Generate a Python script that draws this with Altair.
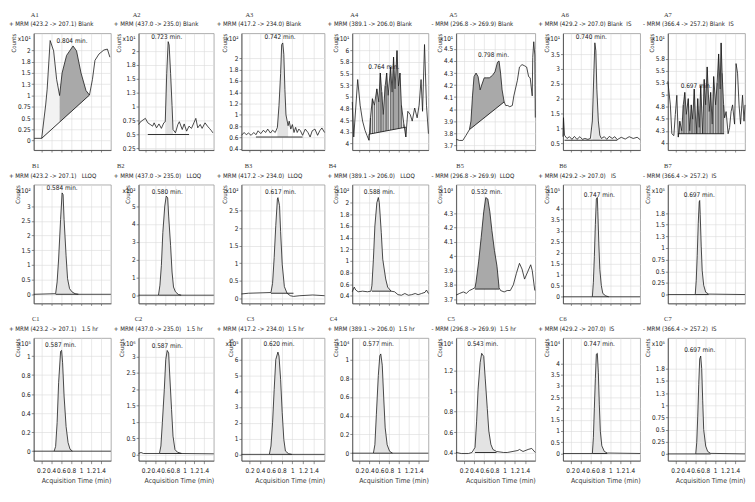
import altair as alt
import pandas as pd

# ---------------- data ----------------
# Row A (Blank)
T_A1 = [0.06, 0.21, 0.29, 0.32, 0.38, 0.45, 0.51, 0.57, 0.62, 0.71, 0.84, 0.91, 1.00, 1.10, 1.17, 1.23, 1.28, 1.36, 1.46, 1.53, 1.58]
V_A1 = [0.05, 0.05, 0.79, 1.14, 2.22, 1.99, 1.36, 1.00, 1.50, 1.89, 2.10, 1.99, 1.50, 1.11, 1.01, 1.36, 1.78, 1.92, 2.01, 2.03, 1.85]

T_A2 = [0.05, 0.08, 0.14, 0.19, 0.24, 0.29, 0.34, 0.37, 0.42, 0.47, 0.52, 0.57, 0.60, 0.63, 0.66, 0.68, 0.71, 0.74, 0.76, 0.81,
        0.86, 0.89, 0.95, 0.99, 1.04, 1.09, 1.14, 1.19, 1.23, 1.27, 1.32, 1.36, 1.42, 1.47, 1.51, 1.55, 1.58]
V_A2 = [0.68, 0.72, 0.76, 0.79, 0.71, 0.68, 0.65, 0.71, 0.62, 0.69, 0.61, 0.71, 0.73, 1.60, 2.17, 2.11, 1.60, 1.02, 0.59, 0.53,
        0.68, 0.73, 0.59, 0.69, 0.56, 0.65, 0.61, 0.71, 0.79, 0.62, 0.68, 0.61, 0.71, 0.65, 0.61, 0.57, 0.53]

T_A3 = [0.05, 0.10, 0.14, 0.18, 0.23, 0.28, 0.32, 0.36, 0.41, 0.46, 0.50, 0.54, 0.59, 0.63, 0.68, 0.72, 0.75, 0.78, 0.80, 0.82,
        0.84, 0.86, 0.88, 0.92, 0.94, 0.97, 1.00, 1.03, 1.06, 1.09, 1.12, 1.15, 1.19, 1.24, 1.29, 1.33, 1.37, 1.42, 1.47, 1.51,
        1.55, 1.60]
V_A3 = [0.64, 0.69, 0.65, 0.68, 0.64, 0.69, 0.65, 0.72, 0.67, 0.73, 0.69, 0.75, 0.68, 0.73, 0.69, 0.78, 1.17, 1.73, 2.24, 2.27,
        2.07, 1.45, 1.00, 0.81, 0.89, 0.75, 0.83, 0.69, 0.78, 0.69, 0.75, 0.72, 0.64, 0.75, 0.69, 0.61, 0.72, 0.75, 0.64, 0.72,
        0.77, 0.69]

T_A4 = [0.05, 0.08, 0.16, 0.21, 0.26, 0.31, 0.35, 0.39, 0.42, 0.46, 0.50, 0.55, 0.59, 0.62, 0.65, 0.68, 0.72, 0.75, 0.78, 0.83,
        0.86, 0.89, 0.92, 0.96, 0.99, 1.02, 1.05, 1.10, 1.14, 1.18, 1.23, 1.27, 1.32, 1.37, 1.41, 1.45, 1.48, 1.52, 1.56, 1.60]
V_A4 = [4.89, 4.14, 5.37, 4.82, 4.48, 4.28, 4.17, 4.07, 4.55, 4.96, 4.82, 5.17, 4.89, 5.51, 5.10, 4.62, 5.23, 5.51, 5.03, 5.64,
        5.10, 5.85, 5.17, 5.99, 5.23, 5.51, 4.82, 4.41, 4.14, 4.69, 4.62, 4.48, 4.76, 4.55, 4.82, 5.37, 4.69, 6.12, 4.82, 4.21]

T_A5 = [0.05, 0.11, 0.18, 0.24, 0.31, 0.34, 0.37, 0.40, 0.44, 0.48, 0.52, 0.55, 0.60, 0.64, 0.70, 0.76, 0.81, 0.86, 0.89, 0.92,
        0.95, 0.99, 1.02, 1.06, 1.10, 1.15, 1.18, 1.25, 1.29, 1.34, 1.39, 1.43, 1.47, 1.50, 1.54, 1.55, 1.57, 1.59, 1.60]
V_A5 = [3.75, 3.74, 3.74, 3.78, 3.83, 3.90, 4.11, 4.27, 4.30, 4.27, 4.16, 4.20, 4.26, 4.26, 4.26, 4.28, 4.31, 4.39, 4.40, 4.30,
        4.16, 4.06, 4.03, 4.03, 4.02, 4.03, 4.11, 4.24, 4.35, 4.37, 4.36, 4.35, 4.27, 4.26, 4.11, 4.43, 4.56, 4.45, 3.93]

T_A6 = [0.05, 0.06, 0.08, 0.13, 0.18, 0.23, 0.28, 0.33, 0.39, 0.44, 0.49, 0.55, 0.60, 0.64, 0.67, 0.69, 0.71, 0.73, 0.76, 0.79,
        0.82, 0.88, 0.93, 0.98, 1.04, 1.09, 1.14, 1.22, 1.30, 1.38, 1.46, 1.54, 1.60]
V_A6 = [0.72, 1.36, 0.77, 0.66, 0.72, 0.63, 0.73, 0.63, 0.72, 0.63, 0.66, 0.63, 0.66, 1.25, 2.86, 3.88, 3.61, 2.32, 1.25, 0.77,
        0.66, 0.72, 0.63, 0.73, 0.66, 0.72, 0.62, 0.70, 0.64, 0.72, 0.66, 0.70, 0.62]

T_A7 = [0.05, 0.10, 0.13, 0.17, 0.20, 0.23, 0.26, 0.29, 0.33, 0.36, 0.39, 0.42, 0.46, 0.49, 0.52, 0.55, 0.58, 0.62, 0.65, 0.68,
        0.71, 0.75, 0.78, 0.81, 0.84, 0.88, 0.91, 0.94, 0.97, 1.01, 1.04, 1.07, 1.10, 1.12, 1.14, 1.17, 1.19, 1.22, 1.26, 1.29,
        1.32, 1.35, 1.39, 1.42, 1.45, 1.48, 1.51, 1.55, 1.58, 1.60]
V_A7 = [5.28, 4.79, 4.19, 4.15, 4.59, 4.99, 4.12, 4.45, 4.25, 4.79, 5.05, 4.59, 4.92, 4.25, 4.79, 4.49, 5.12, 4.19, 4.92, 4.32,
        5.19, 4.19, 5.32, 4.79, 5.58, 4.65, 5.05, 4.39, 5.38, 4.79, 5.25, 5.85, 5.12, 6.08, 5.45, 4.79, 4.52, 4.65, 4.19, 4.32,
        4.65, 4.79, 4.39, 5.65, 5.45, 4.79, 4.39, 4.99, 4.45, 4.79]

# Row B (LLOQ / IS)
T_B1 = [0.05, 0.49, 0.52, 0.55, 0.59, 0.62, 0.64, 0.66, 0.70, 0.73, 0.77, 0.82, 0.88, 0.95, 1.60]
V_B1 = [0.00, 0.02, 0.42, 1.20, 2.55, 3.45, 3.39, 2.55, 1.31, 0.53, 0.19, 0.08, 0.02, 0.00, 0.00]
T_B2 = [0.05, 0.46, 0.49, 0.52, 0.55, 0.59, 0.62, 0.65, 0.67, 0.71, 0.74, 0.77, 0.81, 0.87, 0.93, 1.60]
V_B2 = [0.00, 0.00, 0.56, 1.67, 3.52, 5.00, 5.56, 5.46, 4.44, 2.78, 1.30, 0.46, 0.19, 0.04, 0.00, 0.00]
T_B3 = [0.05, 0.18, 0.60, 0.63, 0.66, 0.69, 0.72, 0.73, 0.76, 0.78, 0.81, 0.85, 0.90, 0.96, 1.02, 1.14, 1.38, 1.60]
V_B3 = [0.12, 0.14, 0.16, 0.42, 1.16, 2.08, 2.83, 2.87, 2.64, 1.90, 0.97, 0.33, 0.14, 0.07, 0.05, 0.07, 0.09, 0.07]
T_B4 = [0.05, 0.09, 0.12, 0.17, 0.26, 0.36, 0.43, 0.45, 0.48, 0.51, 0.55, 0.58, 0.60, 0.64, 0.67, 0.73, 0.77, 0.84, 0.91, 0.98,
        1.05, 1.12, 1.19, 1.26, 1.33, 1.39, 1.46, 1.53, 1.56, 1.60]
V_B4 = [0.47, 0.55, 0.50, 0.47, 0.48, 0.47, 0.48, 0.58, 1.03, 1.60, 2.00, 2.09, 2.00, 1.49, 1.03, 0.69, 0.55, 0.48, 0.47, 0.42,
        0.41, 0.44, 0.41, 0.42, 0.44, 0.42, 0.44, 0.46, 0.50, 0.44]
T_B5 = [0.05, 0.06, 0.12, 0.19, 0.25, 0.31, 0.37, 0.42, 0.44, 0.49, 0.54, 0.59, 0.63, 0.67, 0.71, 0.75, 0.80, 0.85, 0.88, 0.89,
        0.92, 0.99, 1.05, 1.11, 1.17, 1.23, 1.29, 1.34, 1.39, 1.45, 1.51, 1.54, 1.59]
V_B5 = [3.73, 3.73, 3.74, 3.75, 3.74, 3.76, 3.77, 3.78, 3.82, 3.96, 4.13, 4.31, 4.41, 4.40, 4.31, 4.18, 4.04, 3.93, 3.82, 3.78,
        3.76, 3.75, 3.76, 3.76, 3.80, 3.88, 3.95, 3.91, 3.84, 3.89, 3.94, 3.90, 3.76]
T_B6 = [0.05, 0.64, 0.66, 0.68, 0.70, 0.72, 0.74, 0.75, 0.77, 0.79, 0.82, 0.85, 0.91, 0.97, 1.60]
V_B6 = [0.00, 0.00, 0.66, 1.82, 3.28, 4.44, 4.51, 3.86, 2.40, 1.24, 0.51, 0.15, 0.04, 0.00, 0.00]
T_B7 = [0.05, 0.60, 0.62, 0.64, 0.66, 0.68, 0.69, 0.70, 0.72, 0.74, 0.77, 0.81, 0.87, 1.60]
V_B7 = [0.00, 0.00, 0.30, 0.84, 1.52, 1.99, 2.02, 1.72, 1.04, 0.51, 0.20, 0.05, 0.01, 0.00]

# Row C (1.5 hr / IS)
T_C1 = [0.05, 0.46, 0.49, 0.52, 0.55, 0.59, 0.61, 0.63, 0.66, 0.70, 0.74, 0.78, 0.83, 1.60]
V_C1 = [0.00, 0.00, 0.05, 0.30, 0.72, 1.05, 1.06, 0.93, 0.58, 0.26, 0.09, 0.02, 0.00, 0.00]
T_C2 = [0.05, 0.10, 0.15, 0.48, 0.51, 0.54, 0.58, 0.61, 0.64, 0.67, 0.69, 0.73, 0.76, 0.80, 0.85, 0.94, 1.60]
V_C2 = [0.03, 0.06, 0.03, 0.03, 0.26, 0.97, 1.98, 2.90, 3.18, 3.10, 2.49, 1.37, 0.56, 0.15, 0.07, 0.03, 0.02]
T_C3 = [0.05, 0.57, 0.60, 0.63, 0.66, 0.69, 0.73, 0.75, 0.78, 0.81, 0.84, 0.87, 0.93, 0.99, 1.60]
V_C3 = [0.00, 0.00, 0.53, 2.00, 4.11, 6.01, 6.48, 6.23, 4.75, 2.64, 0.95, 0.21, 0.04, 0.00, 0.00]
T_C4 = [0.05, 0.48, 0.51, 0.54, 0.58, 0.61, 0.63, 0.66, 0.69, 0.72, 0.76, 0.81, 0.87, 1.60]
V_C4 = [0.00, 0.00, 0.09, 0.41, 0.83, 1.04, 1.06, 0.94, 0.59, 0.27, 0.09, 0.02, 0.00, 0.00]
T_C5 = [0.05, 0.15, 0.29, 0.36, 0.42, 0.45, 0.48, 0.52, 0.55, 0.59, 0.62, 0.66, 0.69, 0.73, 0.77, 0.84, 0.98, 1.05, 1.26, 1.29,
        1.36, 1.46, 1.53, 1.60]
V_C5 = [0.40, 0.39, 0.39, 0.40, 0.45, 0.70, 1.02, 1.28, 1.37, 1.34, 1.12, 0.83, 0.61, 0.48, 0.43, 0.41, 0.40, 0.40, 0.42, 0.43,
        0.41, 0.43, 0.44, 0.40]
T_C6 = [0.05, 0.64, 0.66, 0.68, 0.70, 0.72, 0.74, 0.76, 0.78, 0.80, 0.83, 0.88, 0.94, 1.60]
V_C6 = [0.00, 0.00, 0.70, 2.01, 3.32, 4.41, 4.45, 3.61, 2.16, 0.99, 0.34, 0.09, 0.02, 0.00]
T_C7 = [0.05, 0.61, 0.63, 0.65, 0.67, 0.69, 0.71, 0.73, 0.75, 0.77, 0.81, 0.85, 0.91, 1.60]
V_C7 = [0.00, 0.00, 0.23, 0.76, 1.42, 1.95, 2.01, 1.75, 1.09, 0.50, 0.16, 0.05, 0.01, 0.00]

# y tick labels per panel
YT_A1 = [0, 0.25, 0.5, 0.75, 1, 1.25, 1.5, 1.75, 2]
YT_A2 = [0.25, 0.5, 0.75, 1, 1.25, 1.5, 1.75, 2]
YT_A3 = [0.4, 0.6, 0.8, 1, 1.2, 1.4, 1.6, 1.8, 2]
YT_A4 = [4, 4.25, 4.5, 4.75, 5, 5.25, 5.5, 5.75, 6]
YT_A5 = [3.7, 3.8, 3.9, 4, 4.1, 4.2, 4.3, 4.4, 4.5]
YT_A6 = [0.5, 1, 1.5, 2, 2.5, 3, 3.5]
YT_A7 = [4, 4.25, 4.5, 4.75, 5, 5.25, 5.5, 5.75]
YT_B1 = [0, 0.5, 1, 1.5, 2, 2.5, 3]
YT_B2 = [0, 1, 2, 3, 4, 5]
YT_B3 = [0, 0.5, 1, 1.5, 2, 2.5]
YT_B4 = [0.4, 0.6, 0.8, 1, 1.2, 1.4, 1.6, 1.8, 2]
YT_B5 = [3.7, 3.8, 3.9, 4, 4.1, 4.2, 4.3]
YT_B6 = [0, 0.5, 1, 1.5, 2, 2.5, 3, 3.5, 4]
YT_B7 = [0, 0.25, 0.5, 0.75, 1, 1.25, 1.5, 1.75]
YT_C1 = [0, 0.2, 0.4, 0.6, 0.8, 1]
YT_C2 = [0, 0.5, 1, 1.5, 2, 2.5, 3]
YT_C3 = [0, 1, 2, 3, 4, 5, 6]
YT_C4 = [0, 0.2, 0.4, 0.6, 0.8, 1]
YT_C5 = [0.4, 0.6, 0.8, 1, 1.2]
YT_C6 = [0, 0.5, 1, 1.5, 2, 2.5, 3, 3.5, 4]
YT_C7 = [0, 0.25, 0.5, 0.75, 1, 1.25, 1.5, 1.75]

X_TICKS = [0.2, 0.4, 0.6, 0.8, 1.0, 1.2, 1.4]

# ---------------- styles ----------------
NARROW = "Liberation Sans Narrow, Arial Narrow, DejaVu Sans Condensed, Liberation Sans, Arial, sans-serif"
SERIF = "Liberation Serif, Times New Roman, serif"
LIGHT = "#e3e3e3"
PALE = "#f2f2f2"
DARK = "#a9a9a9"
INK = "#1b1b1b"
NB = "\u00a0"

P = [
    # row A
    dict(id="A1", title="+ MRM (423.2 -> 207.1) Blank", exp="x10¹", t=T_A1, v=V_A1, yd=[-0.21, 2.38], yt=YT_A1,
         peak="0.804 min.", lab=(0.82, 2.21), base=(0.21, 0.05, 1.17, 1.01),
         fills=[(0.21, 0.57, PALE), (0.57, 1.17, DARK)], drops=False),
    dict(id="A2", title="+ MRM (437.0 -> 235.0) Blank", exp="x10¹", t=T_A2, v=V_A2, yd=[0.22, 2.32], yt=YT_A2,
         peak="0.723 min.", lab=(0.63, 2.26), base=(0.24, 0.5, 1.09, 0.5), fills=[(0.60, 0.76, LIGHT)], drops=False),
    dict(id="A3", title="+ MRM (417.2 -> 234.0) Blank", exp="x10²", t=T_A3, v=V_A3, yd=[0.38, 2.44], yt=YT_A3,
         peak="0.742 min.", lab=(0.77, 2.37), base=(0.32, 0.61, 1.19, 0.61), fills=[(0.72, 0.92, LIGHT)], drops=False),
    dict(id="A4", title="+ MRM (389.1 -> 206.0) Blank", exp="x10¹", t=T_A4, v=V_A4, yd=[3.86, 6.36], yt=YT_A4,
         peak="0.764 min.", lab=(0.69, 5.64), base=(0.39, 4.20, 1.14, 4.35), fills=[(0.39, 1.14, LIGHT)], drops=True),
    dict(id="A5", title="- MRM (296.8 -> 269.9) Blank", exp="x10¹", t=T_A5, v=V_A5, yd=[3.66, 4.63], yt=YT_A5,
         peak="0.798 min.", lab=(0.78, 4.45), base=(0.31, 3.83, 0.99, 4.06), fills=[(0.31, 0.99, DARK)], drops=False),
    dict(id="A6", title="+ MRM (429.2 -> 207.0) Blank" + NB * 2 + "IS", exp="x10¹", t=T_A6, v=V_A6, yd=[0.27, 4.2],
         yt=YT_A6, peak="0.740 min.", lab=(0.62, 4.06), base=(0.08, 0.6, 1.14, 0.6), fills=[(0.64, 0.79, LIGHT)],
         drops=False),
    dict(id="A7", title="- MRM (366.4 -> 257.2) Blank" + NB * 2 + "IS", exp="x10¹", t=T_A7, v=V_A7, yd=[3.85, 6.28],
         yt=YT_A7, peak="0.697 min.", lab=(0.62, 5.19), base=(0.25, 4.19, 1.18, 4.19), fills=[(0.26, 1.17, LIGHT)],
         drops=True),
    # row B
    dict(id="B1", title="+ MRM (423.2 -> 207.1)" + NB * 3 + "LLOQ", exp="x10²", t=T_B1, v=V_B1, yd=[-0.31, 3.73],
         yt=YT_B1, peak="0.584 min.", lab=(0.62, 3.62), base=(0.49, 0, 0.95, 0), fills=[(0.49, 0.95, LIGHT)],
         drops=False),
    dict(id="B2", title="+ MRM (437.0 -> 235.0)" + NB * 3 + "LLOQ", exp="x10²", t=T_B2, v=V_B2, yd=[-0.46, 6.2],
         yt=YT_B2, peak="0.580 min.", lab=(0.64, 5.80), base=(0.46, 0, 0.93, 0), fills=[(0.46, 0.93, LIGHT)],
         drops=False),
    dict(id="B3", title="+ MRM (417.2 -> 234.0)" + NB * 2 + "LLOQ", exp="x10²", t=T_B3, v=V_B3, yd=[-0.15, 3.24],
         yt=YT_B3, peak="0.617 min.", lab=(0.78, 3.03), base=(0.60, 0.14, 1.02, 0.14), fills=[(0.60, 0.90, LIGHT)],
         drops=False),
    dict(id="B4", title="+ MRM (389.1 -> 206.0)" + NB * 3 + "LLOQ", exp="x10²", t=T_B4, v=V_B4, yd=[0.27, 2.31],
         yt=YT_B4, peak="0.588 min.", lab=(0.60, 2.18), base=(0.45, 0.48, 0.84, 0.48), fills=[(0.45, 0.84, LIGHT)],
         drops=False),
    dict(id="B5", title="- MRM (296.8 -> 269.9)" + NB * 2 + "LLOQ", exp="x10³", t=T_B5, v=V_B5, yd=[3.67, 4.5],
         yt=YT_B5, peak="0.532 min.", lab=(0.65, 4.45), base=(0.42, 3.77, 0.89, 3.77), fills=[(0.42, 0.89, DARK)],
         drops=False),
    dict(id="B6", title="+ MRM (429.2 -> 207.0)" + NB * 3 + "IS", exp="x10⁵", t=T_B6, v=V_B6, yd=[-0.3, 5.09],
         yt=YT_B6, peak="0.747 min.", lab=(0.78, 4.62), base=(0.64, 0, 0.97, 0), fills=[(0.64, 0.97, LIGHT)],
         drops=False),
    dict(id="B7", title="- MRM (366.4 -> 257.2)" + NB * 2 + "IS", exp="x10⁵", t=T_B7, v=V_B7, yd=[-0.19, 2.36],
         yt=YT_B7, peak="0.697 min.", lab=(0.68, 2.13), base=(0.60, 0, 0.87, 0), fills=[(0.60, 0.87, LIGHT)],
         drops=False),
    # row C
    dict(id="C1", title="+ MRM (423.2 -> 207.1)" + NB * 3 + "1.5 hr", exp="x10⁵", t=T_C1, v=V_C1, yd=[-0.10, 1.19],
         yt=YT_C1, peak="0.587 min.", lab=(0.59, 1.12), base=(0.46, 0, 0.83, 0), fills=[(0.46, 0.83, LIGHT)],
         drops=False),
    dict(id="C2", title="+ MRM (437.0 -> 235.0)" + NB * 3 + "1.5 hr", exp="x10⁶", t=T_C2, v=V_C2, yd=[-0.19, 3.56],
         yt=YT_C2, peak="0.587 min.", lab=(0.64, 3.32), base=(0.48, 0.03, 0.94, 0.03), fills=[(0.48, 0.94, LIGHT)],
         drops=False),
    dict(id="C3", title="+ MRM (417.2 -> 234.0)" + NB * 2 + "1.5 hr", exp="x10⁵", t=T_C3, v=V_C3, yd=[-0.40, 7.37],
         yt=YT_C3, peak="0.620 min.", lab=(0.75, 7.02), base=(0.57, 0, 0.99, 0), fills=[(0.57, 0.93, LIGHT)],
         drops=False),
    dict(id="C4", title="+ MRM (389.1 -> 206.0)" + NB * 2 + "1.5 hr", exp="x10⁴", t=T_C4, v=V_C4, yd=[-0.08, 1.23],
         yt=YT_C4, peak="0.577 min.", lab=(0.58, 1.17), base=(0.48, 0, 0.87, 0), fills=[(0.48, 0.87, LIGHT)],
         drops=False),
    dict(id="C5", title="- MRM (296.8 -> 269.9)" + NB * 2 + "1.5 hr", exp="x10⁴", t=T_C5, v=V_C5, yd=[0.32, 1.52],
         yt=YT_C5, peak="0.543 min.", lab=(0.57, 1.46), base=(0.42, 0.40, 0.84, 0.40), fills=[(0.42, 0.84, LIGHT)],
         drops=False),
    dict(id="C6", title="+ MRM (429.2 -> 207.0)" + NB * 2 + "IS", exp="x10⁴", t=T_C6, v=V_C6, yd=[-0.32, 5.13],
         yt=YT_C6, peak="0.747 min.", lab=(0.78, 4.88), base=(0.64, 0, 0.94, 0), fills=[(0.64, 0.94, LIGHT)],
         drops=False),
    dict(id="C7", title="- MRM (366.4 -> 257.2)" + NB * 2 + "IS", exp="x10⁵", t=T_C7, v=V_C7, yd=[-0.14, 2.38],
         yt=YT_C7, peak="0.697 min.", lab=(0.69, 2.14), base=(0.61, 0, 0.91, 0), fills=[(0.61, 0.91, LIGHT)],
         drops=False),
]

# layout (pixels)
WIDTHS = [78, 76, 84, 77, 80, 78, 78]
HEIGHTS = [118, 120, 124]
ID_DX = [[1, -2, 8, 2, -3, 2, 0],
         [2, -18, 7, -20, 4, 0, 0],
         [2, 0, 9, -19, -5, 0, 0]]


def base_expr(b):
    t0, v0, t1, v1 = b
    return f"({v0}) + (datum.t - ({t0})) * (({v1}) - ({v0})) / (({t1}) - ({t0}))"


def make_panel(p, row, col):
    df = pd.DataFrame({"t": p["t"], "v": p["v"]})
    last = row == 2
    if last:
        xaxis = alt.Axis(values=X_TICKS, format="~g", grid=True, labels=True, ticks=True, tickSize=3,
                         labelPadding=4, labelFontSize=6.5, labelOverlap=False, labelFlush=False,
                         title="Acquisition Time (min)", titleAnchor="end", titleFontSize=7, titlePadding=3)
    else:
        xaxis = alt.Axis(values=X_TICKS, format="~g", grid=True, labels=False, ticks=True, tickSize=2,
                         title=None)
    X = alt.X("t:Q", scale=alt.Scale(domain=[0.05, 1.6], nice=False, zero=False), axis=xaxis)
    Y = alt.Y("v:Q", scale=alt.Scale(domain=p["yd"], nice=False, zero=False),
              axis=alt.Axis(values=p["yt"], format="~g", grid=True, tickSize=2.5, labelPadding=1,
                            labelFontSize=6.5, labelOverlap=False, labelFlush=False,
                            title="Counts", titleAnchor="end", titleFontSize=6, titlePadding=1))
    layers = []
    expr = base_expr(p["base"])
    for f0, f1, colr in p["fills"]:
        rng = f"datum.t >= {f0 - 1e-6} && datum.t <= {f1 + 1e-6}"
        layers.append(
            alt.Chart(df).transform_filter(rng).transform_calculate(base=expr)
            .mark_area(color=colr, opacity=1).encode(x=X, y=Y, y2="base:Q"))
        if p["drops"]:
            layers.append(
                alt.Chart(df).transform_filter(rng).transform_calculate(base=expr)
                .mark_rule(color="#333", strokeWidth=0.7).encode(x=X, y=Y, y2="base:Q"))
    layers.append(alt.Chart(df).mark_line(color=INK, strokeWidth=0.8).encode(x=X, y=Y))
    b = p["base"]
    bdf = pd.DataFrame({"t": [b[0]], "v": [b[1]], "t2": [b[2]], "v2": [b[3]]})
    layers.append(alt.Chart(bdf).mark_rule(color=INK, strokeWidth=0.9)
                  .encode(x=X, y=Y, x2="t2:Q", y2="v2:Q"))
    ldf = pd.DataFrame({"t": [p["lab"][0]], "v": [p["lab"][1]], "s": [p["peak"]]})
    layers.append(alt.Chart(ldf).mark_text(font=NARROW, fontSize=6.5, color=INK, fill=INK, baseline="middle")
                  .encode(x=X, y=Y, text="s:N"))
    one = pd.DataFrame({"k": [0]})
    layers.append(alt.Chart(one).mark_text(text=p["exp"], font=NARROW, fontSize=6.5, color=INK, fill=INK,
                                           align="right", baseline="middle")
                  .encode(x=alt.value(-3), y=alt.value(6)))
    layers.append(alt.Chart(one).mark_text(text=p["id"], font=SERIF, fontSize=6.5, color="#333", fill="#333",
                                           align="center", baseline="middle")
                  .encode(x=alt.value(ID_DX[row][col]), y=alt.value(-19)))
    layers.append(alt.Chart(one).mark_text(text=p["title"], font=NARROW, fontSize=6.2, color=INK, fill=INK,
                                           align="left", baseline="middle")
                  .encode(x=alt.value(-25), y=alt.value(-9)))
    return alt.layer(*layers).properties(width=WIDTHS[col], height=HEIGHTS[row])


rows = []
for r in range(3):
    panels = [make_panel(P[r * 7 + c], r, c) for c in range(7)]
    rows.append(alt.hconcat(*panels, spacing=28, bounds="flush"))

chart = (
    alt.vconcat(*rows, spacing=9)
    .properties(padding={"left": 0, "top": 0, "right": 0, "bottom": 0}, background="white")
    .configure_view(stroke="#9a9a9a", strokeWidth=0.8)
    .configure_axis(domainColor="#444", tickColor="#444", gridColor="#dadada", gridWidth=0.6,
                    labelColor="#222", labelFont=NARROW, titleFont=NARROW, titleFontWeight="normal",
                    titleColor="#333", domainWidth=0.8, tickWidth=0.6)
)

chart.save("out.html", embed_options={"renderer": "svg", "actions": False})
